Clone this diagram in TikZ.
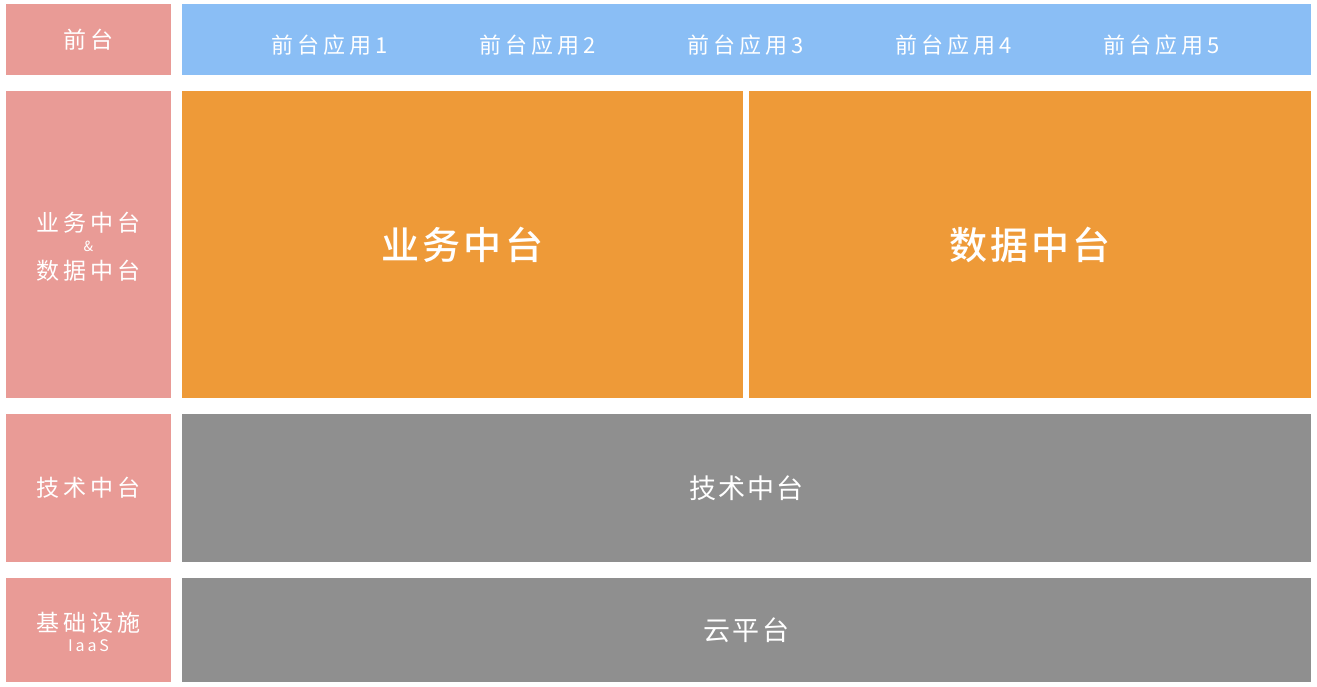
\documentclass[tikz,border=0pt]{standalone}
\usepackage{fontspec}
\setmainfont{Noto Sans CJK SC}[BoldFont={Noto Sans CJK SC Medium}]
\newfontfamily\spaced{Noto Sans CJK SC}[LetterSpace=18, BoldFont={Noto Sans CJK SC Medium}]
\newfontfamily\tight{Noto Sans CJK SC}[LetterSpace=8, BoldFont={Noto Sans CJK SC Medium}]

\definecolor{pinkbox}{RGB}{233,155,150}
\definecolor{bluebox}{RGB}{138,190,245}
\definecolor{orangebox}{RGB}{238,154,56}
\definecolor{graybox}{RGB}{143,143,143}

\begin{document}
\begin{tikzpicture}[x=1pt, y=-1pt,
    layer/.style={inner sep=0pt, outer sep=0pt, text=white},
    lab/.style={inner sep=0pt, text=white, font=\spaced\fontsize{23}{27}\selectfont}]
    \useasboundingbox[fill=white] (0,0) rectangle (1317,687);

    % name, colour, x1, y1, x2, y2, text
    \def\layer#1#2#3#4#5#6#7{%
        \node[layer, fill=#2, minimum width={#5-#3}, minimum height={#6-#4}]
            (#1) at ({(#3+#5)/2},{(#4+#6)/2}) {#7};
    }

    % front
    \layer{frontlab}{pinkbox}{6}{4}{171}{75}{\spaced\fontsize{23}{27}\selectfont 前台}
    \layer{front}{bluebox}{182}{4}{1311}{75}{}
    \foreach \i/\x in {1/330, 2/538, 3/746, 4/954, 5/1162}
        \node[lab, font=\spaced\fontsize{22}{26}\selectfont] (app\i) at (\x,45) {前台应用\i};

    % business & data
    \layer{midlab}{pinkbox}{6}{91}{171}{398}{}
    \node[lab] (bizlab) at ([yshift=22pt]midlab.center) {业务中台};
    \node[lab, font=\fontsize{14}{16}\selectfont] (andlab) at ([yshift=-2pt]midlab.center) {\&};
    \node[lab] (datalab) at ([yshift=-26pt]midlab.center) {数据中台};
    \layer{biz}{orangebox}{182}{91}{743}{398}{\tight\bfseries\fontsize{38}{42}\selectfont 业务中台}
    \layer{data}{orangebox}{749}{91}{1311}{398}{\tight\bfseries\fontsize{38}{42}\selectfont 数据中台}

    % technology
    \layer{techlab}{pinkbox}{6}{414}{171}{562}{\spaced\fontsize{23}{27}\selectfont 技术中台}
    \layer{tech}{graybox}{182}{414}{1311}{562}{\tight\fontsize{27}{31}\selectfont 技术中台}

    % infrastructure
    \layer{infralab}{pinkbox}{6}{578}{171}{682}{}
    \node[lab] (baselab) at ([yshift=7pt]infralab.center) {基础设施};
    \node[lab, font=\spaced\fontsize{16}{18}\selectfont] (iaaslab) at ([yshift=-16pt]infralab.center) {IaaS};
    \layer{cloud}{graybox}{182}{578}{1311}{682}{\tight\fontsize{27}{31}\selectfont 云平台}
\end{tikzpicture}
\end{document}
